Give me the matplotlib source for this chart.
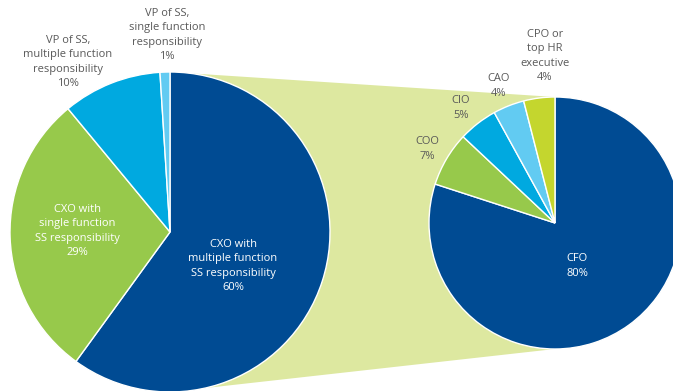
import matplotlib
matplotlib.use("Agg")
import matplotlib.pyplot as plt
from matplotlib.patches import Polygon

plt.rcParams['font.family'] = ['Open Sans', 'DejaVu Sans']

# Who leads shared services (left) and, for CXO-led ones, which CXO (right)
lead_labels = ["CXO with\nmultiple function\nSS responsibility",
               "CXO with\nsingle function\nSS responsibility",
               "VP of SS,\nmultiple function\nresponsibility",
               "VP of SS,\nsingle function\nresponsibility"]
lead_share = [60, 29, 10, 1]
lead_colors = ["#004b93", "#97c94b", "#00a9e0", "#62cbf2"]

cxo_labels = ["CFO", "COO", "CIO", "CAO", "CPO or\ntop HR\nexecutive"]
cxo_share = [80, 7, 5, 4, 4]
cxo_colors = ["#004b93", "#97c94b", "#00a9e0", "#62cbf2", "#c4d62e"]

W, H = 673, 391
fig = plt.figure(figsize=(W / 100, H / 100), dpi=100)
ax = fig.add_axes([0, 0, 1, 1])

# pie centres / radii in pixel units (y measured from bottom)
left_c, left_r = (170, H - 232), 160
right_c, right_r = (555, H - 223), 126

# light green band joining the two pies
band = Polygon([(left_c[0], left_c[1] + left_r),
                (right_c[0], right_c[1] + right_r),
                (right_c[0], right_c[1] - right_r),
                (left_c[0], left_c[1] - left_r)],
               closed=True, facecolor="#dde8a0", edgecolor="none", zorder=0)
ax.add_patch(band)

wp = dict(edgecolor="white", linewidth=1.0)
ax.pie(lead_share, colors=lead_colors, startangle=90, counterclock=False,
       center=left_c, radius=left_r, wedgeprops=wp, frame=True)
ax.pie(cxo_share, colors=cxo_colors, startangle=90, counterclock=False,
       center=right_c, radius=right_r, wedgeprops=wp, frame=True)

# label anchor points (pixels from top-left) and text colours
lead_pos = [(233, 266), (77, 231), (68, 62), (167, 35)]
lead_txt = ["white", "white", "#595959", "#595959"]
cxo_pos = [(577, 266), (427, 149), (461, 108), (499, 86), (545, 56)]
cxo_txt = ["white", "#595959", "#595959", "#595959", "#595959"]

for lab, val, (x, y), c in zip(lead_labels, lead_share, lead_pos, lead_txt):
    ax.text(x, H - y, f"{lab}\n{val}%", ha="center", va="center",
            fontsize=8, color=c, linespacing=1.4)
for lab, val, (x, y), c in zip(cxo_labels, cxo_share, cxo_pos, cxo_txt):
    ax.text(x, H - y, f"{lab}\n{val}%", ha="center", va="center",
            fontsize=8, color=c, linespacing=1.4)

ax.set_xlim(0, W)
ax.set_ylim(0, H)
ax.set_aspect("equal")
ax.axis("off")

fig.savefig("out.png", dpi=100, facecolor="white")
